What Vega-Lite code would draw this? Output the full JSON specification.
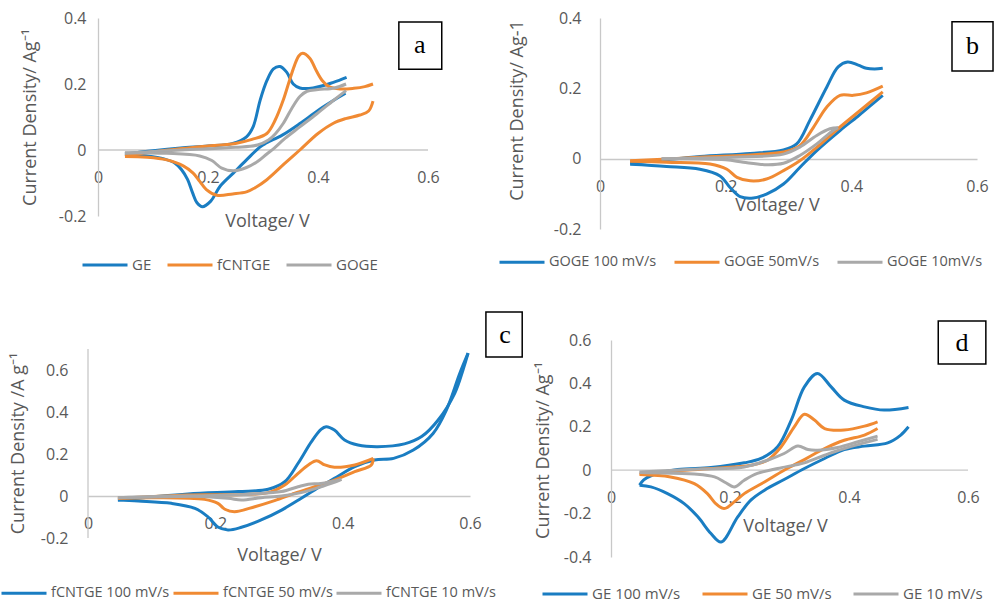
{
  "$schema": "https://vega.github.io/schema/vega-lite/v6.json",
  "padding": {"left": 0, "top": 10, "right": 0, "bottom": 0},
  "background": "white",
  "columns": 2,
  "align": "all",
  "bounds": "flush",
  "spacing": {"row": 105, "column": 130},
  "resolve": {"scale": {"color": "independent"}, "legend": {"color": "independent"}},
  "config": {
    "font": "Open Sans",
    "view": {"stroke": null},
    "axis": {"labelFont": "Open Sans", "labelFontSize": 16, "labelColor": "#595959", "titleFont": "Open Sans", "titleFontSize": 18, "titleFontWeight": "normal", "titleColor": "#595959", "domainColor": "#C8C8C8", "domainWidth": 1.3, "ticks": false, "tickSize": 0, "grid": false, "labelFlush": false, "labelOverlap": false,
      "labelExpr": "datum.value < 0 ? '-' + format(-datum.value, '~g') : format(datum.value, '~g')"},
    "legend": {"orient": "none", "direction": "horizontal", "symbolType": "stroke", "symbolSize": 2025, "symbolStrokeWidth": 3, "labelFont": "Open Sans", "labelFontSize": 15, "labelColor": "#595959", "labelOffset": 3, "padding": 0},
    "line": {"strokeWidth": 3, "interpolate": "catmull-rom"}
  },
  "datasets": {
    "a": [
      {"s":"GE","b":1,"v":0.049,"j":-0.012},{"s":"GE","b":1,"v":0.1,"j":-0.002},{"s":"GE","b":1,"v":0.15,"j":0.006},{"s":"GE","b":1,"v":0.2,"j":0.012},{"s":"GE","b":1,"v":0.245,"j":0.02},{"s":"GE","b":1,"v":0.27,"j":0.04},{"s":"GE","b":1,"v":0.282,"j":0.07},{"s":"GE","b":1,"v":0.295,"j":0.152},{"s":"GE","b":1,"v":0.307,"j":0.21},{"s":"GE","b":1,"v":0.319,"j":0.246},{"s":"GE","b":1,"v":0.331,"j":0.253},{"s":"GE","b":1,"v":0.343,"j":0.236},{"s":"GE","b":1,"v":0.355,"j":0.2},{"s":"GE","b":1,"v":0.367,"j":0.188},{"s":"GE","b":1,"v":0.391,"j":0.188},{"s":"GE","b":1,"v":0.428,"j":0.205},{"s":"GE","b":1,"v":0.452,"j":0.22},
      {"s":"GE","b":2,"v":0.45,"j":0.172},{"s":"GE","b":2,"v":0.428,"j":0.15},{"s":"GE","b":2,"v":0.4,"j":0.12},{"s":"GE","b":2,"v":0.367,"j":0.08},{"s":"GE","b":2,"v":0.335,"j":0.045},{"s":"GE","b":2,"v":0.307,"j":0.022},{"s":"GE","b":2,"v":0.295,"j":0.01},{"s":"GE","b":2,"v":0.27,"j":-0.03},{"s":"GE","b":2,"v":0.246,"j":-0.07},{"s":"GE","b":2,"v":0.222,"j":-0.11},{"s":"GE","b":2,"v":0.205,"j":-0.155},{"s":"GE","b":2,"v":0.19,"j":-0.172},{"s":"GE","b":2,"v":0.18,"j":-0.16},{"s":"GE","b":2,"v":0.172,"j":-0.13},{"s":"GE","b":2,"v":0.163,"j":-0.09},{"s":"GE","b":2,"v":0.152,"j":-0.06},{"s":"GE","b":2,"v":0.14,"j":-0.04},{"s":"GE","b":2,"v":0.12,"j":-0.027},{"s":"GE","b":2,"v":0.09,"j":-0.018},{"s":"GE","b":2,"v":0.049,"j":-0.012},
      {"s":"fCNTGE","b":1,"v":0.049,"j":-0.018},{"s":"fCNTGE","b":1,"v":0.1,"j":-0.005},{"s":"fCNTGE","b":1,"v":0.185,"j":0.01},{"s":"fCNTGE","b":1,"v":0.25,"j":0.02},{"s":"fCNTGE","b":1,"v":0.28,"j":0.032},{"s":"fCNTGE","b":1,"v":0.307,"j":0.05},{"s":"fCNTGE","b":1,"v":0.322,"j":0.09},{"s":"fCNTGE","b":1,"v":0.337,"j":0.152},{"s":"fCNTGE","b":1,"v":0.348,"j":0.21},{"s":"fCNTGE","b":1,"v":0.357,"j":0.255},{"s":"fCNTGE","b":1,"v":0.365,"j":0.285},{"s":"fCNTGE","b":1,"v":0.372,"j":0.293},{"s":"fCNTGE","b":1,"v":0.385,"j":0.278},{"s":"fCNTGE","b":1,"v":0.397,"j":0.24},{"s":"fCNTGE","b":1,"v":0.408,"j":0.21},{"s":"fCNTGE","b":1,"v":0.42,"j":0.192},{"s":"fCNTGE","b":1,"v":0.44,"j":0.185},{"s":"fCNTGE","b":1,"v":0.465,"j":0.187},{"s":"fCNTGE","b":1,"v":0.485,"j":0.192},{"s":"fCNTGE","b":1,"v":0.5,"j":0.2},
      {"s":"fCNTGE","b":2,"v":0.5,"j":0.148},{"s":"fCNTGE","b":2,"v":0.492,"j":0.118},{"s":"fCNTGE","b":2,"v":0.476,"j":0.106},{"s":"fCNTGE","b":2,"v":0.45,"j":0.095},{"s":"fCNTGE","b":2,"v":0.428,"j":0.081},{"s":"fCNTGE","b":2,"v":0.4,"j":0.05},{"s":"fCNTGE","b":2,"v":0.367,"j":0.0},{"s":"fCNTGE","b":2,"v":0.34,"j":-0.04},{"s":"fCNTGE","b":2,"v":0.307,"j":-0.09},{"s":"fCNTGE","b":2,"v":0.285,"j":-0.115},{"s":"fCNTGE","b":2,"v":0.27,"j":-0.127},{"s":"fCNTGE","b":2,"v":0.245,"j":-0.133},{"s":"fCNTGE","b":2,"v":0.216,"j":-0.137},{"s":"fCNTGE","b":2,"v":0.197,"j":-0.12},{"s":"fCNTGE","b":2,"v":0.185,"j":-0.095},{"s":"fCNTGE","b":2,"v":0.173,"j":-0.07},{"s":"fCNTGE","b":2,"v":0.155,"j":-0.048},{"s":"fCNTGE","b":2,"v":0.125,"j":-0.03},{"s":"fCNTGE","b":2,"v":0.09,"j":-0.022},{"s":"fCNTGE","b":2,"v":0.049,"j":-0.02},
      {"s":"GOGE","b":1,"v":0.049,"j":-0.01},{"s":"GOGE","b":1,"v":0.15,"j":0.0},{"s":"GOGE","b":1,"v":0.25,"j":0.008},{"s":"GOGE","b":1,"v":0.29,"j":0.015},{"s":"GOGE","b":1,"v":0.31,"j":0.03},{"s":"GOGE","b":1,"v":0.323,"j":0.05},{"s":"GOGE","b":1,"v":0.337,"j":0.081},{"s":"GOGE","b":1,"v":0.352,"j":0.125},{"s":"GOGE","b":1,"v":0.367,"j":0.162},{"s":"GOGE","b":1,"v":0.38,"j":0.178},{"s":"GOGE","b":1,"v":0.4,"j":0.183},{"s":"GOGE","b":1,"v":0.43,"j":0.188},{"s":"GOGE","b":1,"v":0.451,"j":0.2},
      {"s":"GOGE","b":2,"v":0.451,"j":0.18},{"s":"GOGE","b":2,"v":0.428,"j":0.15},{"s":"GOGE","b":2,"v":0.398,"j":0.11},{"s":"GOGE","b":2,"v":0.367,"j":0.07},{"s":"GOGE","b":2,"v":0.34,"j":0.035},{"s":"GOGE","b":2,"v":0.32,"j":0.005},{"s":"GOGE","b":2,"v":0.307,"j":-0.012},{"s":"GOGE","b":2,"v":0.29,"j":-0.035},{"s":"GOGE","b":2,"v":0.27,"j":-0.053},{"s":"GOGE","b":2,"v":0.246,"j":-0.063},{"s":"GOGE","b":2,"v":0.225,"j":-0.055},{"s":"GOGE","b":2,"v":0.207,"j":-0.032},{"s":"GOGE","b":2,"v":0.185,"j":-0.018},{"s":"GOGE","b":2,"v":0.125,"j":-0.01},{"s":"GOGE","b":2,"v":0.049,"j":-0.008}
    ],
    "b": [
      {"s":"GOGE 100 mV/s","b":1,"v":0.048,"j":-0.013},{"s":"GOGE 100 mV/s","b":1,"v":0.1,"j":-0.004},{"s":"GOGE 100 mV/s","b":1,"v":0.159,"j":0.006},{"s":"GOGE 100 mV/s","b":1,"v":0.239,"j":0.015},{"s":"GOGE 100 mV/s","b":1,"v":0.292,"j":0.025},{"s":"GOGE 100 mV/s","b":1,"v":0.313,"j":0.042},{"s":"GOGE 100 mV/s","b":1,"v":0.334,"j":0.109},{"s":"GOGE 100 mV/s","b":1,"v":0.361,"j":0.204},{"s":"GOGE 100 mV/s","b":1,"v":0.379,"j":0.261},{"s":"GOGE 100 mV/s","b":1,"v":0.394,"j":0.275},{"s":"GOGE 100 mV/s","b":1,"v":0.411,"j":0.266},{"s":"GOGE 100 mV/s","b":1,"v":0.424,"j":0.257},{"s":"GOGE 100 mV/s","b":1,"v":0.437,"j":0.255},{"s":"GOGE 100 mV/s","b":1,"v":0.45,"j":0.257},
      {"s":"GOGE 100 mV/s","b":2,"v":0.45,"j":0.18},{"s":"GOGE 100 mV/s","b":2,"v":0.43,"j":0.15},{"s":"GOGE 100 mV/s","b":2,"v":0.41,"j":0.12},{"s":"GOGE 100 mV/s","b":2,"v":0.382,"j":0.08},{"s":"GOGE 100 mV/s","b":2,"v":0.345,"j":0.023},{"s":"GOGE 100 mV/s","b":2,"v":0.318,"j":-0.025},{"s":"GOGE 100 mV/s","b":2,"v":0.292,"j":-0.072},{"s":"GOGE 100 mV/s","b":2,"v":0.265,"j":-0.101},{"s":"GOGE 100 mV/s","b":2,"v":0.244,"j":-0.112},{"s":"GOGE 100 mV/s","b":2,"v":0.223,"j":-0.108},{"s":"GOGE 100 mV/s","b":2,"v":0.207,"j":-0.082},{"s":"GOGE 100 mV/s","b":2,"v":0.191,"j":-0.049},{"s":"GOGE 100 mV/s","b":2,"v":0.159,"j":-0.03},{"s":"GOGE 100 mV/s","b":2,"v":0.106,"j":-0.022},{"s":"GOGE 100 mV/s","b":2,"v":0.048,"j":-0.016},
      {"s":"GOGE 50mV/s","b":1,"v":0.048,"j":-0.006},{"s":"GOGE 50mV/s","b":1,"v":0.15,"j":0.003},{"s":"GOGE 50mV/s","b":1,"v":0.25,"j":0.012},{"s":"GOGE 50mV/s","b":1,"v":0.292,"j":0.019},{"s":"GOGE 50mV/s","b":1,"v":0.318,"j":0.037},{"s":"GOGE 50mV/s","b":1,"v":0.34,"j":0.09},{"s":"GOGE 50mV/s","b":1,"v":0.361,"j":0.147},{"s":"GOGE 50mV/s","b":1,"v":0.382,"j":0.18},{"s":"GOGE 50mV/s","b":1,"v":0.403,"j":0.18},{"s":"GOGE 50mV/s","b":1,"v":0.424,"j":0.187},{"s":"GOGE 50mV/s","b":1,"v":0.45,"j":0.206},
      {"s":"GOGE 50mV/s","b":2,"v":0.45,"j":0.19},{"s":"GOGE 50mV/s","b":2,"v":0.414,"j":0.137},{"s":"GOGE 50mV/s","b":2,"v":0.382,"j":0.09},{"s":"GOGE 50mV/s","b":2,"v":0.345,"j":0.032},{"s":"GOGE 50mV/s","b":2,"v":0.318,"j":-0.006},{"s":"GOGE 50mV/s","b":2,"v":0.292,"j":-0.034},{"s":"GOGE 50mV/s","b":2,"v":0.265,"j":-0.058},{"s":"GOGE 50mV/s","b":2,"v":0.239,"j":-0.063},{"s":"GOGE 50mV/s","b":2,"v":0.218,"j":-0.053},{"s":"GOGE 50mV/s","b":2,"v":0.202,"j":-0.03},{"s":"GOGE 50mV/s","b":2,"v":0.175,"j":-0.015},{"s":"GOGE 50mV/s","b":2,"v":0.106,"j":-0.01},{"s":"GOGE 50mV/s","b":2,"v":0.048,"j":-0.007},
      {"s":"GOGE 10mV/s","b":1,"v":0.098,"j":0.0},{"s":"GOGE 10mV/s","b":1,"v":0.212,"j":0.004},{"s":"GOGE 10mV/s","b":1,"v":0.292,"j":0.013},{"s":"GOGE 10mV/s","b":1,"v":0.318,"j":0.033},{"s":"GOGE 10mV/s","b":1,"v":0.345,"j":0.066},{"s":"GOGE 10mV/s","b":1,"v":0.366,"j":0.085},{"s":"GOGE 10mV/s","b":1,"v":0.379,"j":0.088},
      {"s":"GOGE 10mV/s","b":2,"v":0.379,"j":0.088},{"s":"GOGE 10mV/s","b":2,"v":0.371,"j":0.08},{"s":"GOGE 10mV/s","b":2,"v":0.345,"j":0.042},{"s":"GOGE 10mV/s","b":2,"v":0.318,"j":0.009},{"s":"GOGE 10mV/s","b":2,"v":0.292,"j":-0.013},{"s":"GOGE 10mV/s","b":2,"v":0.265,"j":-0.017},{"s":"GOGE 10mV/s","b":2,"v":0.228,"j":-0.01},{"s":"GOGE 10mV/s","b":2,"v":0.2,"j":-0.003},{"s":"GOGE 10mV/s","b":2,"v":0.098,"j":0.0}
    ],
    "c": [
      {"s":"fCNTGE 100 mV/s","b":1,"v":0.047,"j":-0.019},{"s":"fCNTGE 100 mV/s","b":1,"v":0.157,"j":0.01},{"s":"fCNTGE 100 mV/s","b":1,"v":0.236,"j":0.021},{"s":"fCNTGE 100 mV/s","b":1,"v":0.283,"j":0.032},{"s":"fCNTGE 100 mV/s","b":1,"v":0.309,"j":0.068},{"s":"fCNTGE 100 mV/s","b":1,"v":0.33,"j":0.156},{"s":"fCNTGE 100 mV/s","b":1,"v":0.351,"j":0.259},{"s":"fCNTGE 100 mV/s","b":1,"v":0.366,"j":0.317},{"s":"fCNTGE 100 mV/s","b":1,"v":0.374,"j":0.33},{"s":"fCNTGE 100 mV/s","b":1,"v":0.387,"j":0.314},{"s":"fCNTGE 100 mV/s","b":1,"v":0.403,"j":0.267},{"s":"fCNTGE 100 mV/s","b":1,"v":0.424,"j":0.243},{"s":"fCNTGE 100 mV/s","b":1,"v":0.455,"j":0.235},{"s":"fCNTGE 100 mV/s","b":1,"v":0.497,"j":0.248},{"s":"fCNTGE 100 mV/s","b":1,"v":0.524,"j":0.283},{"s":"fCNTGE 100 mV/s","b":1,"v":0.55,"j":0.362},{"s":"fCNTGE 100 mV/s","b":1,"v":0.576,"j":0.489},{"s":"fCNTGE 100 mV/s","b":1,"v":0.589,"j":0.6},{"s":"fCNTGE 100 mV/s","b":1,"v":0.597,"j":0.68},
      {"s":"fCNTGE 100 mV/s","b":2,"v":0.597,"j":0.68},{"s":"fCNTGE 100 mV/s","b":2,"v":0.584,"j":0.584},{"s":"fCNTGE 100 mV/s","b":2,"v":0.563,"j":0.41},{"s":"fCNTGE 100 mV/s","b":2,"v":0.542,"j":0.298},{"s":"fCNTGE 100 mV/s","b":2,"v":0.511,"j":0.219},{"s":"fCNTGE 100 mV/s","b":2,"v":0.48,"j":0.179},{"s":"fCNTGE 100 mV/s","b":2,"v":0.45,"j":0.171},{"s":"fCNTGE 100 mV/s","b":2,"v":0.419,"j":0.14},{"s":"fCNTGE 100 mV/s","b":2,"v":0.387,"j":0.084},{"s":"fCNTGE 100 mV/s","b":2,"v":0.356,"j":0.029},{"s":"fCNTGE 100 mV/s","b":2,"v":0.335,"j":-0.011},{"s":"fCNTGE 100 mV/s","b":2,"v":0.304,"j":-0.067},{"s":"fCNTGE 100 mV/s","b":2,"v":0.272,"j":-0.114},{"s":"fCNTGE 100 mV/s","b":2,"v":0.241,"j":-0.149},{"s":"fCNTGE 100 mV/s","b":2,"v":0.22,"j":-0.162},{"s":"fCNTGE 100 mV/s","b":2,"v":0.204,"j":-0.148},{"s":"fCNTGE 100 mV/s","b":2,"v":0.188,"j":-0.098},{"s":"fCNTGE 100 mV/s","b":2,"v":0.168,"j":-0.059},{"s":"fCNTGE 100 mV/s","b":2,"v":0.131,"j":-0.035},{"s":"fCNTGE 100 mV/s","b":2,"v":0.079,"j":-0.024},{"s":"fCNTGE 100 mV/s","b":2,"v":0.047,"j":-0.019},
      {"s":"fCNTGE 50 mV/s","b":1,"v":0.047,"j":-0.011},{"s":"fCNTGE 50 mV/s","b":1,"v":0.157,"j":0.005},{"s":"fCNTGE 50 mV/s","b":1,"v":0.283,"j":0.016},{"s":"fCNTGE 50 mV/s","b":1,"v":0.309,"j":0.052},{"s":"fCNTGE 50 mV/s","b":1,"v":0.33,"j":0.108},{"s":"fCNTGE 50 mV/s","b":1,"v":0.346,"j":0.148},{"s":"fCNTGE 50 mV/s","b":1,"v":0.359,"j":0.168},{"s":"fCNTGE 50 mV/s","b":1,"v":0.372,"j":0.148},{"s":"fCNTGE 50 mV/s","b":1,"v":0.387,"j":0.137},{"s":"fCNTGE 50 mV/s","b":1,"v":0.419,"j":0.148},{"s":"fCNTGE 50 mV/s","b":1,"v":0.448,"j":0.179},
      {"s":"fCNTGE 50 mV/s","b":2,"v":0.448,"j":0.179},{"s":"fCNTGE 50 mV/s","b":2,"v":0.445,"j":0.148},{"s":"fCNTGE 50 mV/s","b":2,"v":0.419,"j":0.116},{"s":"fCNTGE 50 mV/s","b":2,"v":0.387,"j":0.076},{"s":"fCNTGE 50 mV/s","b":2,"v":0.356,"j":0.044},{"s":"fCNTGE 50 mV/s","b":2,"v":0.325,"j":0.013},{"s":"fCNTGE 50 mV/s","b":2,"v":0.293,"j":-0.022},{"s":"fCNTGE 50 mV/s","b":2,"v":0.262,"j":-0.051},{"s":"fCNTGE 50 mV/s","b":2,"v":0.23,"j":-0.075},{"s":"fCNTGE 50 mV/s","b":2,"v":0.215,"j":-0.063},{"s":"fCNTGE 50 mV/s","b":2,"v":0.204,"j":-0.035},{"s":"fCNTGE 50 mV/s","b":2,"v":0.183,"j":-0.016},{"s":"fCNTGE 50 mV/s","b":2,"v":0.105,"j":-0.008},{"s":"fCNTGE 50 mV/s","b":2,"v":0.047,"j":-0.011},
      {"s":"fCNTGE 10 mV/s","b":1,"v":0.047,"j":-0.008},{"s":"fCNTGE 10 mV/s","b":1,"v":0.262,"j":0.01},{"s":"fCNTGE 10 mV/s","b":1,"v":0.304,"j":0.021},{"s":"fCNTGE 10 mV/s","b":1,"v":0.33,"j":0.044},{"s":"fCNTGE 10 mV/s","b":1,"v":0.346,"j":0.056},{"s":"fCNTGE 10 mV/s","b":1,"v":0.366,"j":0.06},{"s":"fCNTGE 10 mV/s","b":1,"v":0.398,"j":0.079},
      {"s":"fCNTGE 10 mV/s","b":2,"v":0.398,"j":0.079},{"s":"fCNTGE 10 mV/s","b":2,"v":0.39,"j":0.068},{"s":"fCNTGE 10 mV/s","b":2,"v":0.366,"j":0.044},{"s":"fCNTGE 10 mV/s","b":2,"v":0.335,"j":0.016},{"s":"fCNTGE 10 mV/s","b":2,"v":0.304,"j":0.0},{"s":"fCNTGE 10 mV/s","b":2,"v":0.272,"j":-0.008},{"s":"fCNTGE 10 mV/s","b":2,"v":0.241,"j":-0.019},{"s":"fCNTGE 10 mV/s","b":2,"v":0.22,"j":-0.011},{"s":"fCNTGE 10 mV/s","b":2,"v":0.157,"j":0.0},{"s":"fCNTGE 10 mV/s","b":2,"v":0.047,"j":-0.008}
    ],
    "d": [
      {"s":"GE 100 mV/s","b":1,"v":0.048,"j":-0.069},{"s":"GE 100 mV/s","b":1,"v":0.055,"j":-0.045},{"s":"GE 100 mV/s","b":1,"v":0.07,"j":-0.022},{"s":"GE 100 mV/s","b":1,"v":0.112,"j":0.003},{"s":"GE 100 mV/s","b":1,"v":0.168,"j":0.012},{"s":"GE 100 mV/s","b":1,"v":0.224,"j":0.034},{"s":"GE 100 mV/s","b":1,"v":0.252,"j":0.054},{"s":"GE 100 mV/s","b":1,"v":0.28,"j":0.108},{"s":"GE 100 mV/s","b":1,"v":0.303,"j":0.231},{"s":"GE 100 mV/s","b":1,"v":0.325,"j":0.384},{"s":"GE 100 mV/s","b":1,"v":0.347,"j":0.446},{"s":"GE 100 mV/s","b":1,"v":0.37,"j":0.384},{"s":"GE 100 mV/s","b":1,"v":0.392,"j":0.323},{"s":"GE 100 mV/s","b":1,"v":0.426,"j":0.292},{"s":"GE 100 mV/s","b":1,"v":0.459,"j":0.277},{"s":"GE 100 mV/s","b":1,"v":0.5,"j":0.289},
      {"s":"GE 100 mV/s","b":2,"v":0.5,"j":0.2},{"s":"GE 100 mV/s","b":2,"v":0.487,"j":0.162},{"s":"GE 100 mV/s","b":2,"v":0.465,"j":0.126},{"s":"GE 100 mV/s","b":2,"v":0.426,"j":0.111},{"s":"GE 100 mV/s","b":2,"v":0.392,"j":0.095},{"s":"GE 100 mV/s","b":2,"v":0.359,"j":0.054},{"s":"GE 100 mV/s","b":2,"v":0.325,"j":0.008},{"s":"GE 100 mV/s","b":2,"v":0.291,"j":-0.043},{"s":"GE 100 mV/s","b":2,"v":0.258,"j":-0.092},{"s":"GE 100 mV/s","b":2,"v":0.235,"j":-0.138},{"s":"GE 100 mV/s","b":2,"v":0.213,"j":-0.215},{"s":"GE 100 mV/s","b":2,"v":0.185,"j":-0.331},{"s":"GE 100 mV/s","b":2,"v":0.168,"j":-0.292},{"s":"GE 100 mV/s","b":2,"v":0.146,"j":-0.215},{"s":"GE 100 mV/s","b":2,"v":0.123,"j":-0.154},{"s":"GE 100 mV/s","b":2,"v":0.095,"j":-0.108},{"s":"GE 100 mV/s","b":2,"v":0.067,"j":-0.077},{"s":"GE 100 mV/s","b":2,"v":0.048,"j":-0.069},
      {"s":"GE 50 mV/s","b":1,"v":0.048,"j":-0.018},{"s":"GE 50 mV/s","b":1,"v":0.1,"j":-0.005},{"s":"GE 50 mV/s","b":1,"v":0.168,"j":0.008},{"s":"GE 50 mV/s","b":1,"v":0.235,"j":0.023},{"s":"GE 50 mV/s","b":1,"v":0.263,"j":0.046},{"s":"GE 50 mV/s","b":1,"v":0.286,"j":0.108},{"s":"GE 50 mV/s","b":1,"v":0.308,"j":0.2},{"s":"GE 50 mV/s","b":1,"v":0.325,"j":0.258},{"s":"GE 50 mV/s","b":1,"v":0.342,"j":0.231},{"s":"GE 50 mV/s","b":1,"v":0.359,"j":0.192},{"s":"GE 50 mV/s","b":1,"v":0.392,"j":0.185},{"s":"GE 50 mV/s","b":1,"v":0.426,"j":0.203},{"s":"GE 50 mV/s","b":1,"v":0.448,"j":0.223},
      {"s":"GE 50 mV/s","b":2,"v":0.448,"j":0.192},{"s":"GE 50 mV/s","b":2,"v":0.426,"j":0.162},{"s":"GE 50 mV/s","b":2,"v":0.392,"j":0.138},{"s":"GE 50 mV/s","b":2,"v":0.359,"j":0.1},{"s":"GE 50 mV/s","b":2,"v":0.325,"j":0.049},{"s":"GE 50 mV/s","b":2,"v":0.291,"j":0.0},{"s":"GE 50 mV/s","b":2,"v":0.258,"j":-0.054},{"s":"GE 50 mV/s","b":2,"v":0.224,"j":-0.108},{"s":"GE 50 mV/s","b":2,"v":0.207,"j":-0.146},{"s":"GE 50 mV/s","b":2,"v":0.19,"j":-0.177},{"s":"GE 50 mV/s","b":2,"v":0.176,"j":-0.154},{"s":"GE 50 mV/s","b":2,"v":0.162,"j":-0.108},{"s":"GE 50 mV/s","b":2,"v":0.14,"j":-0.062},{"s":"GE 50 mV/s","b":2,"v":0.1,"j":-0.031},{"s":"GE 50 mV/s","b":2,"v":0.048,"j":-0.02},
      {"s":"GE 10 mV/s","b":1,"v":0.048,"j":-0.008},{"s":"GE 10 mV/s","b":1,"v":0.15,"j":0.005},{"s":"GE 10 mV/s","b":1,"v":0.224,"j":0.015},{"s":"GE 10 mV/s","b":1,"v":0.263,"j":0.046},{"s":"GE 10 mV/s","b":1,"v":0.291,"j":0.077},{"s":"GE 10 mV/s","b":1,"v":0.314,"j":0.111},{"s":"GE 10 mV/s","b":1,"v":0.331,"j":0.095},{"s":"GE 10 mV/s","b":1,"v":0.347,"j":0.092},{"s":"GE 10 mV/s","b":1,"v":0.381,"j":0.105},{"s":"GE 10 mV/s","b":1,"v":0.415,"j":0.131},{"s":"GE 10 mV/s","b":1,"v":0.448,"j":0.157},
      {"s":"GE 10 mV/s","b":2,"v":0.448,"j":0.142},{"s":"GE 10 mV/s","b":2,"v":0.392,"j":0.1},{"s":"GE 10 mV/s","b":2,"v":0.359,"j":0.069},{"s":"GE 10 mV/s","b":2,"v":0.325,"j":0.034},{"s":"GE 10 mV/s","b":2,"v":0.28,"j":0.008},{"s":"GE 10 mV/s","b":2,"v":0.246,"j":-0.015},{"s":"GE 10 mV/s","b":2,"v":0.224,"j":-0.046},{"s":"GE 10 mV/s","b":2,"v":0.207,"j":-0.077},{"s":"GE 10 mV/s","b":2,"v":0.193,"j":-0.058},{"s":"GE 10 mV/s","b":2,"v":0.174,"j":-0.031},{"s":"GE 10 mV/s","b":2,"v":0.14,"j":-0.018},{"s":"GE 10 mV/s","b":2,"v":0.048,"j":-0.011}
    ]
  },
  "concat": [
    {
      "width": 340, "height": 198,
      "layer": [
        {"data": {"values": [{}]}, "mark": {"type": "rule", "color": "#C8C8C8", "strokeWidth": 1.3},
         "encoding": {"x": {"datum": 0, "type": "quantitative"}, "x2": {"datum": 0.6}, "y": {"datum": 0, "type": "quantitative"}}},
        {"data": {"name": "a"}, "mark": "line",
         "encoding": {
           "x": {"field": "v", "type": "quantitative", "scale": {"domain": [-0.01818, 0.6], "nice": false, "zero": false},
                 "axis": {"values": [0, 0.2, 0.4, 0.6], "offset": -66, "domain": false, "labelPadding": 19, "title": "Voltage/ V", "titleX": 179, "titleY": 62}},
           "y": {"field": "j", "type": "quantitative", "scale": {"domain": [-0.2, 0.4], "nice": false, "zero": false},
                 "axis": {"values": [-0.2, 0, 0.2, 0.4], "offset": -10, "labelPadding": 12, "title": "Current Density/ Ag⁻¹", "titleX": -59, "titleY": 99}},
           "color": {"field": "s", "type": "nominal", "scale": {"domain": ["GE", "fCNTGE", "GOGE"], "range": ["#1A7DC2", "#F08A33", "#A9A9A9"]},
                     "legend": {"title": null, "legendX": -7, "legendY": 223, "columnPadding": 9}},
           "detail": {"field": "b"},
           "order": {"value": null}
         }},
        {"data": {"values": [{}]}, "mark": {"type": "rect", "fill": "white", "stroke": "black", "strokeWidth": 1.5},
         "encoding": {"x": {"datum": 0.547, "type": "quantitative"}, "x2": {"datum": 0.625}, "y": {"datum": 0.388, "type": "quantitative"}, "y2": {"datum": 0.245}}},
        {"data": {"values": [{}]}, "mark": {"type": "text", "text": "a", "font": "Liberation Serif", "fontSize": 26, "color": "black", "baseline": "middle", "align": "center"},
         "encoding": {"x": {"datum": 0.585, "type": "quantitative"}, "y": {"datum": 0.318, "type": "quantitative"}}}
      ]
    },
    {
      "width": 377, "height": 211,
      "layer": [
        {"data": {"name": "b"}, "mark": "line",
         "encoding": {
           "x": {"field": "v", "type": "quantitative", "scale": {"domain": [0, 0.6], "nice": false, "zero": false},
                 "axis": {"values": [0, 0.2, 0.4, 0.6], "offset": -70, "labelPadding": 19, "title": "Voltage/ V", "titleX": 177, "titleY": 37}},
           "y": {"field": "j", "type": "quantitative", "scale": {"domain": [-0.2, 0.4], "nice": false, "zero": false},
                 "axis": {"values": [-0.2, 0, 0.2, 0.4], "labelPadding": 19, "title": "Current Density/ Ag-1", "titleX": -74, "titleY": 92}},
           "color": {"field": "s", "type": "nominal", "scale": {"domain": ["GOGE 100 mV/s", "GOGE 50mV/s", "GOGE 10mV/s"], "range": ["#1A7DC2", "#F08A33", "#A9A9A9"]},
                     "legend": {"title": null, "legendX": -102, "legendY": 220, "columnPadding": 11, "labelFontSize": 14.5}},
           "detail": {"field": "b"},
           "order": {"value": null}
         }},
        {"data": {"values": [{}]}, "mark": {"type": "rect", "fill": "white", "stroke": "black", "strokeWidth": 1.5},
         "encoding": {"x": {"datum": 0.5602, "type": "quantitative"}, "x2": {"datum": 0.6255}, "y": {"datum": 0.389, "type": "quantitative"}, "y2": {"datum": 0.249}}},
        {"data": {"values": [{}]}, "mark": {"type": "text", "text": "b", "font": "Liberation Serif", "fontSize": 26, "color": "black", "baseline": "middle", "align": "center"},
         "encoding": {"x": {"datum": 0.593, "type": "quantitative"}, "y": {"datum": 0.32, "type": "quantitative"}}}
      ]
    },
    {
      "width": 382, "height": 198,
      "layer": [
        {"data": {"values": [{}]}, "mark": {"type": "rule", "color": "#C8C8C8", "strokeWidth": 1.3},
         "encoding": {"x": {"datum": 0, "type": "quantitative"}, "y": {"datum": -0.2, "type": "quantitative"}, "y2": {"datum": 0.7}}},
        {"data": {"name": "c"}, "mark": "line",
         "encoding": {
           "x": {"field": "v", "type": "quantitative", "scale": {"domain": [0, 0.6], "nice": false, "zero": false},
                 "axis": {"values": [0, 0.2, 0.4, 0.6], "offset": -42, "labelPadding": 19, "title": "Voltage/ V", "titleX": 191, "titleY": 50}},
           "y": {"field": "j", "type": "quantitative", "scale": {"domain": [-0.2, 0.74286], "nice": false, "zero": false},
                 "axis": {"values": [-0.2, 0, 0.2, 0.4, 0.6], "domain": false, "labelPadding": 20, "title": "Current Density /A g⁻¹", "titleX": -61, "titleY": 103}},
           "color": {"field": "s", "type": "nominal", "scale": {"domain": ["fCNTGE 100 mV/s", "fCNTGE 50 mV/s", "fCNTGE 10 mV/s"], "range": ["#1A7DC2", "#F08A33", "#A9A9A9"]},
                     "legend": {"title": null, "legendX": -88, "legendY": 229, "columnPadding": -3, "labelFontSize": 14.5}},
           "detail": {"field": "b"},
           "order": {"value": null}
         }},
        {"data": {"values": [{}]}, "mark": {"type": "rect", "fill": "white", "stroke": "black", "strokeWidth": 1.5},
         "encoding": {"x": {"datum": 0.625, "type": "quantitative"}, "x2": {"datum": 0.682}, "y": {"datum": 0.876, "type": "quantitative"}, "y2": {"datum": 0.662}}},
        {"data": {"values": [{}]}, "mark": {"type": "text", "text": "c", "font": "Liberation Serif", "fontSize": 26, "color": "black", "baseline": "middle", "align": "center"},
         "encoding": {"x": {"datum": 0.655, "type": "quantitative"}, "y": {"datum": 0.767, "type": "quantitative"}}}
      ]
    },
    {
      "width": 368, "height": 217,
      "layer": [
        {"data": {"values": [{}]}, "mark": {"type": "rule", "color": "#C8C8C8", "strokeWidth": 1.3},
         "encoding": {"x": {"datum": 0, "type": "quantitative"}, "x2": {"datum": 0.6}, "y": {"datum": 0, "type": "quantitative"}}},
        {"data": {"name": "d"}, "mark": "line",
         "encoding": {
           "x": {"field": "v", "type": "quantitative", "scale": {"domain": [-0.01849, 0.6], "nice": false, "zero": false},
                 "axis": {"values": [0, 0.2, 0.4, 0.6], "offset": -87, "domain": false, "labelPadding": 19, "title": "Voltage/ V", "titleX": 185, "titleY": 47}},
           "y": {"field": "j", "type": "quantitative", "scale": {"domain": [-0.4, 0.6], "nice": false, "zero": false},
                 "axis": {"values": [-0.4, -0.2, 0, 0.2, 0.4, 0.6], "offset": -11, "labelPadding": 20, "title": "Current Density/ Ag⁻¹", "titleX": -59, "titleY": 110}},
           "color": {"field": "s", "type": "nominal", "scale": {"domain": ["GE 100 mV/s", "GE 50 mV/s", "GE 10 mV/s"], "range": ["#1A7DC2", "#F08A33", "#A9A9A9"]},
                     "legend": {"title": null, "legendX": -59, "legendY": 230, "columnPadding": 15}},
           "detail": {"field": "b"},
           "order": {"value": null}
         }},
        {"data": {"values": [{}]}, "mark": {"type": "rect", "fill": "white", "stroke": "black", "strokeWidth": 1.5},
         "encoding": {"x": {"datum": 0.55, "type": "quantitative"}, "x2": {"datum": 0.63}, "y": {"datum": 0.688, "type": "quantitative"}, "y2": {"datum": 0.489}}},
        {"data": {"values": [{}]}, "mark": {"type": "text", "text": "d", "font": "Liberation Serif", "fontSize": 26, "color": "black", "baseline": "middle", "align": "center"},
         "encoding": {"x": {"datum": 0.59, "type": "quantitative"}, "y": {"datum": 0.586, "type": "quantitative"}}}
      ]
    }
  ]
}
